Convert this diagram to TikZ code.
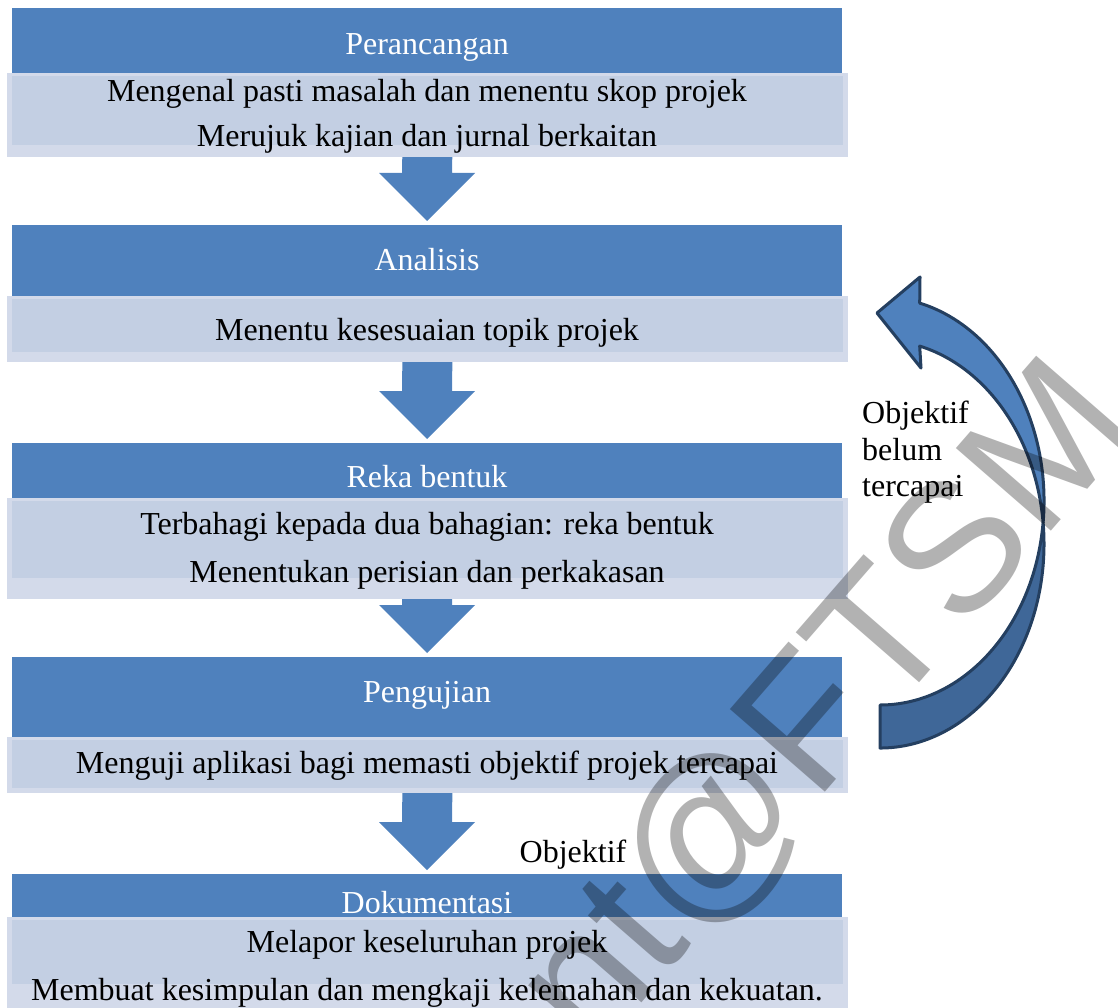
\documentclass[tikz,border=0pt]{standalone}
\usepackage{fontspec}
\setmainfont{Liberation Serif}
\newfontfamily\wmfont{Liberation Sans}
\usetikzlibrary{calc}
\pgfdeclarelayer{background}
\pgfsetlayers{background,main}
\definecolor{hdrblue}{HTML}{4F81BD}
\definecolor{cout}{HTML}{D3DAEA}
\definecolor{cin}{HTML}{C3CFE3}
\definecolor{arrdark}{HTML}{3F6798}
\definecolor{arrline}{HTML}{243F60}
\newcommand\flowarrow[2]{%
  \fill[flow] ($(#1.south)+(-25,-12)$) -- ($(#2.north)+(-25,-52)$) -- ($(#2.north)+(-48,-52)$)
    -- ($(#2.north)+(0,-4)$) -- ($(#2.north)+(48,-52)$) -- ($(#2.north)+(25,-52)$)
    -- ($(#1.south)+(25,-12)$) -- cycle;}
\begin{document}
\begin{tikzpicture}[x=1pt,y=-1pt,
  hdr/.style={fill=hdrblue, draw=none, inner sep=0, outer sep=0, anchor=north west, minimum width=830},
  cbox/.style={fill=cout, draw=none, inner sep=0, outer sep=0, anchor=north west, minimum width=841},
  cinner/.style={fill=cin},
  htext/.style={text=white, font=\fontsize{32}{38}\selectfont, anchor=base, inner sep=0},
  ctext/.style={text=black, font=\fontsize{32}{38}\selectfont, anchor=base, inner sep=0},
  side/.style={text=black, font=\fontsize{32}{38}\selectfont, anchor=base west, inner sep=0},
  flow/.style={fill=hdrblue, draw=none},
  loopback/.style={line width=3pt, draw=arrline, line join=round},
  wm/.style={font=\wmfont\fontsize{183}{183}\selectfont, text=black, text opacity=0.3, inner sep=0}]
\useasboundingbox (0,0) rectangle (1118,1008);

% headers
\node[hdr, minimum height=65] (h1) at (12,8) {};
\node[hdr, minimum height=71] (h2) at (12,225) {};
\node[hdr, minimum height=55] (h3) at (12,443) {};
\node[hdr, minimum height=80] (h4) at (12,657) {};
\node[hdr, minimum height=43] (h5) at (12,874) {};

% content boxes
\node[cbox, minimum height=84] (c1) at (7,73) {};
\fill[cinner] ($(c1.north west)+(5,3)$) rectangle ($(c1.south east)+(-5,-12)$);
\node[cbox, minimum height=66] (c2) at (7,296) {};
\fill[cinner] ($(c2.north west)+(5,3)$) rectangle ($(c2.south east)+(-5,-10)$);
\node[cbox, minimum height=101] (c3) at (7,498) {};
\fill[cinner] ($(c3.north west)+(5,3)$) rectangle ($(c3.south east)+(-5,-21)$);
\node[cbox, minimum height=56] (c4) at (7,737) {};
\fill[cinner] ($(c4.north west)+(5,3)$) rectangle ($(c4.south east)+(-5,-5)$);
\node[cbox, minimum height=95] (c5) at (7,917) {};
\fill[cinner] ($(c5.north west)+(5,3)$) rectangle ($(c5.south east)+(-5,-28)$);

% flow arrows
\begin{pgfonlayer}{background}
\flowarrow{c1}{h2}
\flowarrow{c2}{h3}
\flowarrow{c3}{h4}
\flowarrow{c4}{h5}
\end{pgfonlayer}

% texts
\node[htext] (t1) at (427,55) {Perancangan};
\node[ctext] (l1a) at (427,102) {Mengenal pasti masalah dan menentu skop projek};
\node[ctext] (l1b) at (427,147) {Merujuk kajian dan jurnal berkaitan};
\node[htext] (t2) at (427,270) {Analisis};
\node[ctext] (l2a) at (427,340) {Menentu kesesuaian topik projek};
\node[htext] (t3) at (427,487) {Reka bentuk};
\node[ctext] (l3a) at (427,534) {Terbahagi kepada dua bahagian: reka bentuk};
\node[ctext] (l3b) at (427,582) {Menentukan perisian dan perkakasan};
\node[htext] (t4) at (427,702) {Pengujian};
\node[ctext] (l4a) at (427,773) {Menguji aplikasi bagi memasti objektif projek tercapai};
\node[htext] (t5) at (427,913) {Dokumentasi};
\node[ctext] (l5a) at (427,952) {Melapor keseluruhan projek};
\node[ctext] (l5b) at (427,1000) {Membuat kesimpulan dan mengkaji kelemahan dan kekuatan.};
\node[ctext] (ok) at (573,862) {Objektif};
\node[side] (nb1) at (862,423) {Objektif};
\node[side] (nb2) at (862,460) {belum};
\node[side] (nb3) at (862,496) {tercapai};

% curved loop-back arrow
\filldraw[loopback, fill=arrdark] (1043.1,522.7) arc[start angle=6, end angle=-90, x radius=164pt, y radius=204pt]
  -- (880,705) arc[start angle=-90, end angle=-6, x radius=164pt, y radius=204pt] -- cycle;
\filldraw[loopback, fill=hdrblue] (877,313) -- (920,277) -- (919.7,303.1)
  arc[start angle=76, end angle=-6, x radius=164pt, y radius=204pt]
  -- (1043.1,522.7) arc[start angle=6, end angle=76, x radius=164pt, y radius=204pt]
  -- (921,368) -- cycle;

% watermark
\begin{scope}
\clip (0,0) rectangle (1118,1008);
\node[wm, rotate=49, anchor=base east] (wm) at (1142,427) {nt@FTSM};
\end{scope}
\end{tikzpicture}
\end{document}
